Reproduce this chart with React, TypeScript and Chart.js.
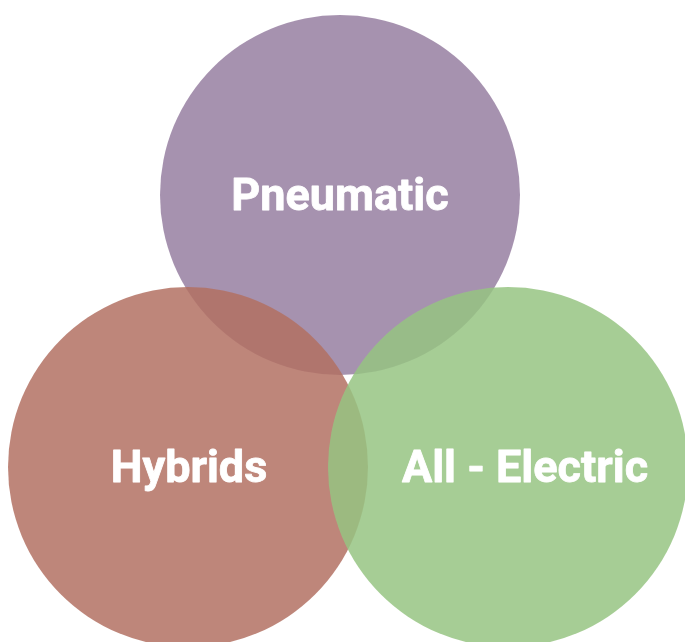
import React, { useEffect, useRef } from "react";
import { Chart, registerables } from "chart.js";

Chart.register(...registerables);

const categories = ["Pneumatic", "Hybrids", "All - Electric"];
const centerX = [340, 188, 508];
const centerY = [195, 467, 467];
const radius = [180, 180, 180];
const colors = [
  "rgba(150,127,161,0.85)",
  "rgba(179,113,99,0.85)",
  "rgba(150,196,130,0.85)",
];
const labelOffsetX = [0, 1, 17];

const W = 685;
const H = 642;
// bubble controller pads chart area by the largest radius; compensate so values map to pixels
const PAD = Math.max(...radius);

const labelPlugin = {
  id: "vennLabels",
  afterDatasetsDraw(chart: any) {
    const ctx = chart.ctx;
    const meta = chart.getDatasetMeta(0);
    ctx.save();
    ctx.fillStyle = "#ffffff";
    ctx.strokeStyle = "#ffffff";
    ctx.lineWidth = 0.8;
    ctx.lineJoin = "round";
    ctx.font = "bold 45px Roboto";
    ctx.textAlign = "center";
    ctx.textBaseline = "alphabetic";
    meta.data.forEach((el: any, i: number) => {
      const x = el.x + labelOffsetX[i];
      const y = el.y + 14.5;
      ctx.fillText(categories[i], x, y);
      ctx.strokeText(categories[i], x, y);
    });
    ctx.restore();
  },
};

export default function App() {
  const ref = useRef<HTMLCanvasElement>(null);
  useEffect(() => {
    if (!ref.current) return;
    const chart = new Chart(ref.current, {
      type: "bubble",
      data: {
        labels: categories,
        datasets: [
          {
            data: categories.map((_, i) => ({ x: centerX[i], y: centerY[i], r: radius[i] })),
            backgroundColor: colors,
            borderWidth: 0,
            hoverRadius: 0,
            clip: false as any,
          } as any,
        ],
      },
      options: {
        animation: false,
        responsive: true,
        maintainAspectRatio: false,
        layout: { padding: 0 },
        events: [],
        plugins: { legend: { display: false }, tooltip: { enabled: false } },
        scales: {
          x: { type: "linear", min: PAD, max: W - PAD, display: false },
          y: { type: "linear", min: PAD, max: H - PAD, reverse: true, display: false },
        },
      },
      plugins: [labelPlugin],
    });
    return () => chart.destroy();
  }, []);
  return (
    <div style={{ position: "fixed", left: 0, top: 0, width: W, height: H, background: "#fff" }}>
      <canvas ref={ref} />
    </div>
  );
}
